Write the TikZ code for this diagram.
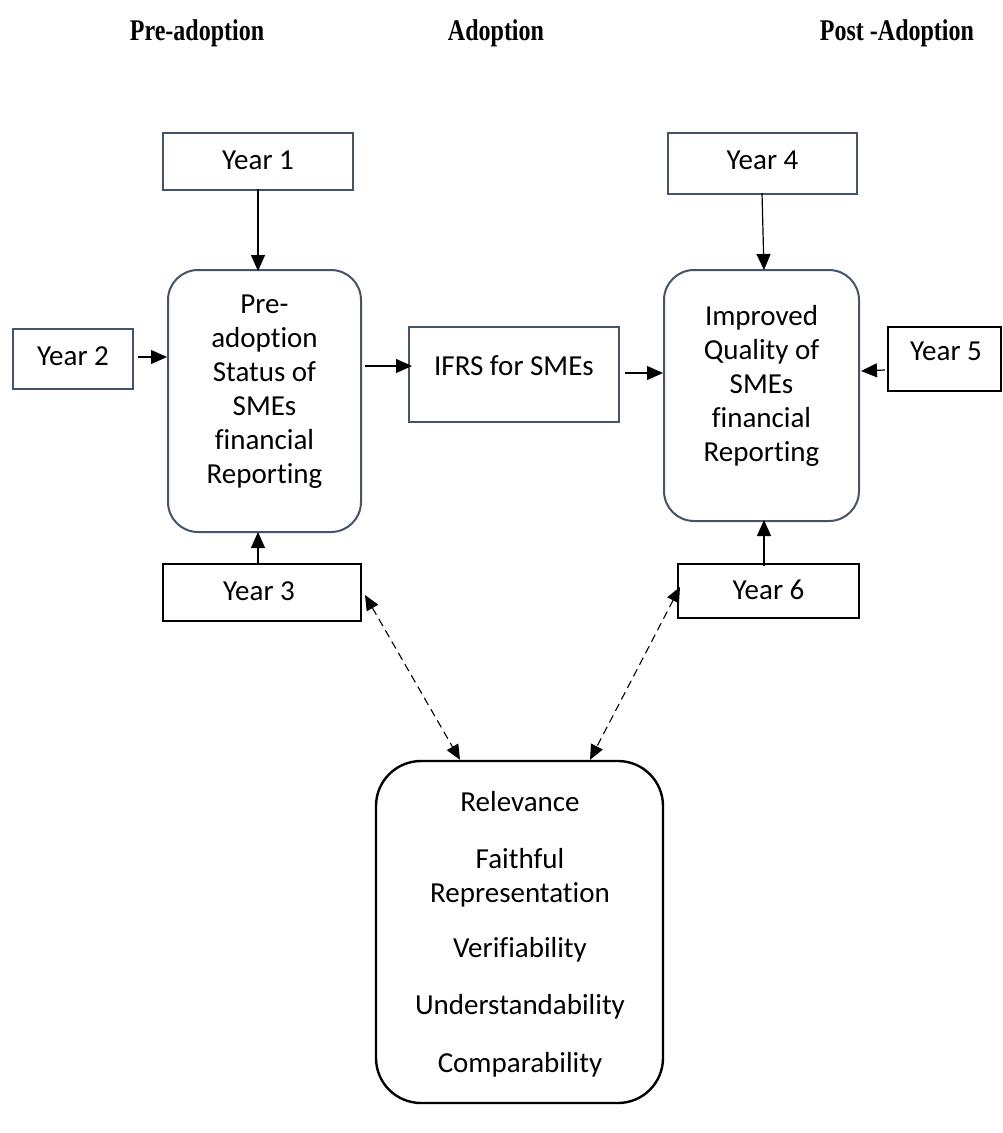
\documentclass[tikz,border=0pt]{standalone}
\usepackage{fontspec}
\setmainfont{Carlito}[Ligatures=NoCommon]
\newfontfamily\headfont{Liberation Serif}
\usetikzlibrary{arrows.meta,calc}
\definecolor{slate}{HTML}{44546A}
\newcommand{\hdtext}[1]{\scalebox{0.8}[1]{#1}}
\tikzset{
  head/.style={font=\headfont\bfseries\fontsize{30}{36}\selectfont, anchor=base, inner sep=0},
  txt/.style={font=\fontsize{29}{34}\selectfont, align=center, inner sep=0},
  bluebox/.style={draw=slate, line width=2pt, fill=white},
  blackbox/.style={draw=black, line width=2.4pt, fill=white},
  arr/.style={line width=1.2pt, -{Triangle[length=16pt,width=14pt]}},
  darr/.style={line width=1.1pt, dash pattern=on 8pt off 5pt, {Triangle[length=15pt,width=13pt]}-{Triangle[length=15pt,width=13pt]}},
}
\begin{document}
\begin{tikzpicture}[x=1pt,y=-1pt]
\useasboundingbox (0,0) rectangle (1003,1133);
% headers
\node[head] (h1) at (197,40) {\hdtext{Pre-adoption}};
\node[head] (h2) at (496,40) {\hdtext{Adoption}};
\node[head] (h3) at (897,40) {\hdtext{Post -Adoption}};
% year boxes
\node[bluebox, minimum width=190, minimum height=57, inner sep=0] (y1) at (258,161.5) {};
\node[txt] at (258,160) {Year 1};
\node[bluebox, minimum width=120, minimum height=60, inner sep=0] (y2) at (73,359) {};
\node[txt] at (73,356) {Year 2};
\node[blackbox, minimum width=198, minimum height=57, inner sep=0] (y3) at (262,592.5) {};
\node[txt] at (259,591) {Year 3};
\node[bluebox, minimum width=189, minimum height=61, inner sep=0] (y4) at (762.5,163.5) {};
\node[txt] at (762.5,160) {Year 4};
\node[blackbox, minimum width=113, minimum height=64, inner sep=0] (y5) at (944.5,359) {};
\node[txt] at (946,351) {Year 5};
\node[blackbox, minimum width=181, minimum height=54, inner sep=0] (y6) at (768.5,591) {};
\node[txt] at (768.5,590) {Year 6};
% main boxes
\node[bluebox, rounded corners=30pt, minimum width=193, minimum height=262, inner sep=0] (pre) at (264.5,401) {};
\node[txt] at (264.5,392) {Pre-\\adoption\\Status of\\SMEs\\financial\\Reporting};
\node[bluebox, minimum width=210, minimum height=95, inner sep=0] (ifrs) at (514,374.5) {};
\node[txt] at (514,366) {IFRS for SMEs};
\node[bluebox, rounded corners=30pt, minimum width=195, minimum height=251, inner sep=0] (imp) at (761.5,395.5) {};
\node[txt] at (761.5,386) {Improved\\Quality of\\SMEs\\financial\\Reporting};
\node[blackbox, rounded corners=45pt, minimum width=287, minimum height=342, inner sep=0] (qual) at (519.5,932) {};
\node[txt] at (520,934) {Relevance\\[23pt]Faithful\\Representation\\[21pt]Verifiability\\[23pt]Understandability\\[24pt]Comparability};
% connectors
\draw[arr] ([yshift=2]y1.south) -- ([yshift=-2]y1.south |- pre.north);
\draw[arr] ([xshift=4]y2.east |- 0,357) -- (pre.west |- 0,357);
\draw[arr] ([yshift=-1]y3.north -| 258,0) -- ([yshift=1]pre.south -| 258,0);
\draw[arr] ([xshift=3]pre.east |- 0,366) -- ([xshift=4]ifrs.west |- 0,366);
\draw[arr] ([xshift=5]ifrs.east |- 0,373) -- (imp.west |- 0,373);
\draw[arr] ([yshift=2]y4.south -| 762,0) -- ([yshift=-1]imp.north -| 764,0);
\draw[arr] ([xshift=-2]y5.west |- 0,370) -- ([xshift=1]imp.east |- 0,371);
\draw[arr] ([yshift=-3]y6.north -| 764,0) -- ([yshift=2]imp.south -| 764,0);
\coordinate (dl) at (365,595);
\coordinate (dr) at (680,587);
\draw[darr] (dl) -- (qual.north -| 460,0);
\draw[darr] (dr) -- (qual.north -| 590,0);
\end{tikzpicture}
\end{document}
